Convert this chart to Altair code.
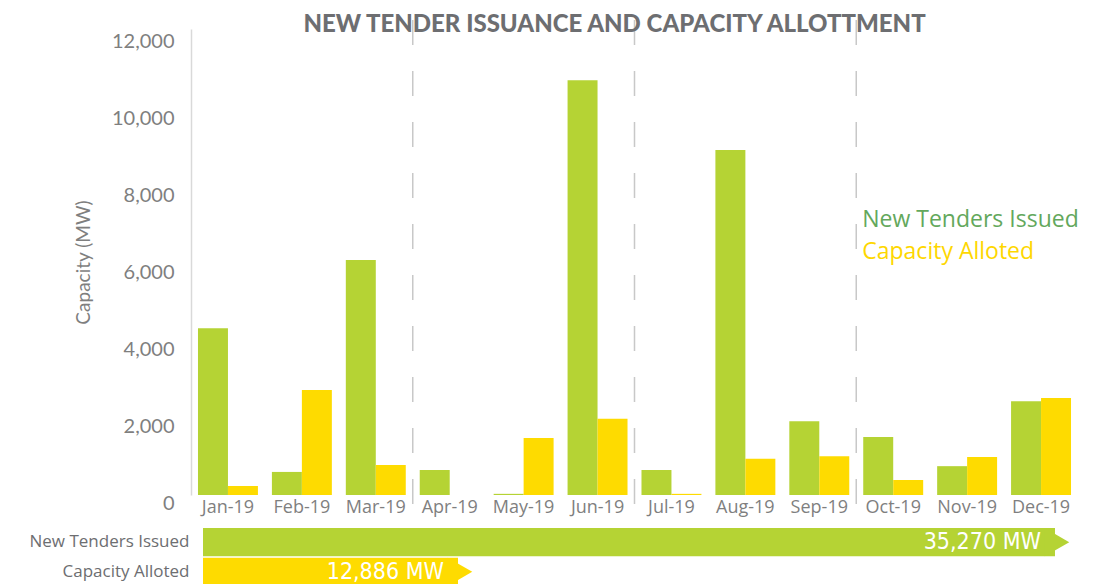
import altair as alt
import pandas as pd

months = ["Jan-19", "Feb-19", "Mar-19", "Apr-19", "May-19", "Jun-19",
          "Jul-19", "Aug-19", "Sep-19", "Oct-19", "Nov-19", "Dec-19"]
new_tenders = [4340, 600, 6110, 650, 30, 10790, 650, 8970, 1920, 1510, 750, 2440]
capacity_alloted = [234, 2730, 780, 0, 1480, 1980, 30, 940, 1010, 390, 990, 2520]
series = ["New Tenders Issued", "Capacity Alloted"]
bar_colors = ["#b5d334", "#fedb00"]
legend_colors = ["#63a85c", "#fed700"]
legend_y = [7150, 6320]
quarter_starts = ["Apr-19", "Jul-19", "Oct-19"]
y_ticks = [0, 2000, 4000, 6000, 8000, 10000, 12000]
totals = [35270, 12886]
total_labels = ["35,270 MW", "12,886 MW"]

GRAY = "#7f7f7f"

df = pd.DataFrame({
    "month": months * 2,
    "series": [s for s in series for _ in months],
    "value": new_tenders + capacity_alloted,
})

xscale = alt.Scale(domain=months, paddingInner=0, paddingOuter=0)
yscale = alt.Scale(domain=[0, 12120], nice=False)

x_axis = alt.Axis(title=None, labelAngle=0, domain=False, ticks=False,
                  labelFont="Open Sans", labelFontSize=18,
                  labelColor=GRAY, labelPadding=3)
y_axis = alt.Axis(values=y_ticks, format=",.0f", title="Capacity (MW)",
                  grid=False, ticks=False, domain=True,
                  domainColor="#d9d9d9", domainWidth=1.5,
                  labelFont="Lato", labelFontSize=20, labelColor=GRAY,
                  labelPadding=17, labelOffset=8,
                  titleFont="Lato", titleFontSize=19, titleFontWeight="normal",
                  titleColor=GRAY, titlePadding=18)

bars = alt.Chart(df).mark_bar().encode(
    x=alt.X("month:N", sort=months, scale=xscale, axis=x_axis),
    xOffset=alt.XOffset("series:N", sort=series,
                        scale=alt.Scale(domain=series, paddingOuter=0.233, paddingInner=0)),
    y=alt.Y("value:Q", scale=yscale, axis=y_axis),
    color=alt.Color("series:N", scale=alt.Scale(domain=series, range=bar_colors), legend=None),
)

rules = alt.Chart(pd.DataFrame({"month": quarter_starts})).mark_rule(
    color="#c8c8c8", strokeWidth=1.5, strokeDash=[25, 26]
).encode(
    x=alt.X("month:N", sort=months, scale=xscale, bandPosition=0, axis=x_axis),
    y=alt.value(-9),
    y2=alt.value(476),
)

legend_df = pd.DataFrame({"label": series, "month": ["Oct-19", "Oct-19"], "value": legend_y})
legend_text = alt.Chart(legend_df).mark_text(
    align="left", baseline="middle", font="Open Sans", fontSize=23, dx=6
).encode(
    x=alt.X("month:N", sort=months, scale=xscale, bandPosition=0, axis=x_axis),
    y=alt.Y("value:Q", scale=yscale, axis=y_axis),
    text="label:N",
    color=alt.Color("label:N", scale=alt.Scale(domain=series, range=legend_colors), legend=None),
)

main = alt.layer(bars, rules, legend_text).resolve_scale(color="independent").properties(
    width=887, height=466,
    title=alt.TitleParams("NEW TENDER ISSUANCE AND CAPACITY ALLOTTMENT",
                          font="Lato", fontSize=24, fontWeight=900, color="#6d6e71",
                          frame="group", anchor="middle", offset=-18, dx=-20),
)

tot = pd.DataFrame({"series": series, "total": totals, "label": total_labels})
ybot = alt.Y("series:N", sort=series,
             scale=alt.Scale(domain=series, paddingInner=0.05, paddingOuter=0),
             axis=alt.Axis(title=None, domain=False, ticks=False, labelFont="Open Sans",
                           labelFontSize=17, labelColor="#6d6e71", labelPadding=2,
                           minExtent=178))
xbot = alt.X("total:Q", scale=alt.Scale(domain=[2875, 36133], nice=False, zero=False), axis=None)
cbot = alt.Color("series:N", scale=alt.Scale(domain=series, range=bar_colors), legend=None)

base = alt.Chart(tot)
tbars = base.mark_bar().encode(x=xbot, x2=alt.datum(3325), y=ybot, color=cbot)
arrows = base.mark_point(shape="triangle-right", size=800, filled=True, opacity=1, xOffset=2).encode(
    x=xbot, y=ybot, color=cbot)
tlabels = base.mark_text(align="right", baseline="middle", dx=-14, color="white",
                         font="'DejaVu Sans Condensed', 'Open Sans'", fontSize=23).encode(
    x=xbot, y=ybot, text="label:N")

bottom = alt.layer(tbars, arrows, tlabels).properties(width=887, height=58)

chart = alt.vconcat(main, bottom, spacing=11).properties(
    padding={"left": 5, "top": 5, "right": 5, "bottom": 5},
    background="white",
).configure_view(stroke="transparent", strokeWidth=0)

chart.save("out.html", embed_options={"renderer": "svg", "actions": False})
